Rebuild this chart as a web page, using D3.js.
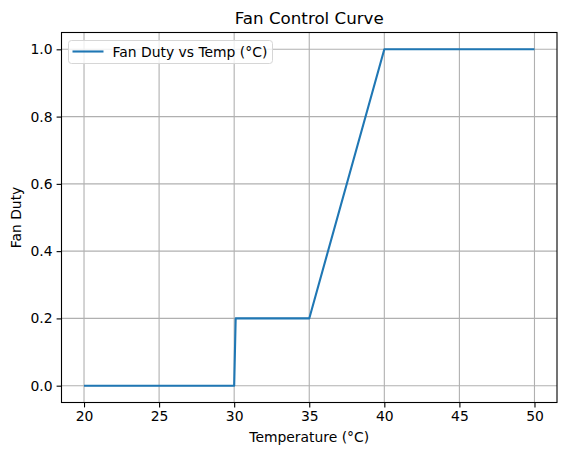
<!DOCTYPE html>
<html>
<head>
<meta charset="utf-8">
<script src="https://cdn.jsdelivr.net/npm/d3@7"></script>
<style>
  body { margin: 0; background: #fff; }
  text { font-family: "DejaVu Sans", sans-serif; fill: #000; }
</style>
</head>
<body>
<div id="chart"></div>
<script>
(function () {
    var width = 567, height = 455;

    // data
    var temps = [20, 30, 30.1, 35, 40, 50];
    var duty = [0, 0, 0.2, 0.2, 1.0, 1.0];
    var xTicks = [20, 25, 30, 35, 40, 45, 50];
    var yTicks = [0.0, 0.2, 0.4, 0.6, 0.8, 1.0];

    var margin = {left: 61.5, right: 10, top: 32.5, bottom: 52.5};

    var svg = d3.select("#chart")
        .append("svg")
        .attr("width", width)
        .attr("height", height);

    var x = d3.scaleLinear().domain([18.5, 51.5]).range([margin.left, width - margin.right]);
    var y = d3.scaleLinear().domain([-0.05, 1.05]).range([height - margin.bottom, margin.top]);

    // grid
    svg.append("g").selectAll("line.gx")
        .data(xTicks).enter().append("line")
        .attr("x1", d => x(d)).attr("x2", d => x(d))
        .attr("y1", y.range()[0]).attr("y2", y.range()[1])
        .attr("stroke", "#b0b0b0").attr("stroke-width", 1.1);
    svg.append("g").selectAll("line.gy")
        .data(yTicks).enter().append("line")
        .attr("y1", d => y(d)).attr("y2", d => y(d))
        .attr("x1", x.range()[0]).attr("x2", x.range()[1])
        .attr("stroke", "#b0b0b0").attr("stroke-width", 1.1);

    // axes
    var xAxis = d3.axisBottom(x).tickValues(xTicks).tickSize(4.9).tickPadding(4).tickFormat(d3.format("d"));
    var yAxis = d3.axisLeft(y).tickValues(yTicks).tickSize(4.9).tickPadding(4).tickFormat(d3.format(".1f"));

    var gx = svg.append("g")
        .attr("transform", "translate(0," + y.range()[0] + ")")
        .call(xAxis);
    var gy = svg.append("g")
        .attr("transform", "translate(" + x.range()[0] + ",0)")
        .call(yAxis);
    [gx, gy].forEach(function (g) {
        g.select(".domain").remove();
        g.selectAll(".tick line").attr("stroke", "#000").attr("stroke-width", 1.1);
        g.selectAll(".tick text").style("font-size", "13.9px").style("font-family", "DejaVu Sans");
    });

    // line
    var pts = temps.map(function (t, i) { return [t, duty[i]]; });
    var line = d3.line()
        .x(function (d) { return x(d[0]); })
        .y(function (d) { return y(d[1]); });
    svg.append("path")
        .attr("d", line(pts))
        .attr("fill", "none")
        .attr("stroke", "#1f77b4")
        .attr("stroke-width", 2.1)
        .attr("stroke-linejoin", "round");

    // frame
    svg.append("rect")
        .attr("x", x.range()[0]).attr("y", y.range()[1])
        .attr("width", x.range()[1] - x.range()[0])
        .attr("height", y.range()[0] - y.range()[1])
        .attr("fill", "none").attr("stroke", "#000").attr("stroke-width", 1.1);

    // title and labels
    svg.append("text")
        .attr("x", (x.range()[0] + x.range()[1]) / 2).attr("y", 24)
        .attr("text-anchor", "middle")
        .style("font-size", "16.7px")
        .text("Fan Control Curve");
    svg.append("text")
        .attr("x", (x.range()[0] + x.range()[1]) / 2).attr("y", 442)
        .attr("text-anchor", "middle")
        .style("font-size", "13.9px")
        .text("Temperature (°C)");
    svg.append("text")
        .attr("transform", "translate(21," + ((y.range()[0] + y.range()[1]) / 2) + ") rotate(-90)")
        .attr("text-anchor", "middle")
        .style("font-size", "13.9px")
        .text("Fan Duty");

    // legend
    var lg = svg.append("g");
    lg.append("rect")
        .attr("x", 68.5).attr("y", 40.5).attr("width", 204).attr("height", 23)
        .attr("rx", 3)
        .attr("fill", "#fff").attr("fill-opacity", 0.8)
        .attr("stroke", "#d6d6d6").attr("stroke-width", 1);
    lg.append("line")
        .attr("x1", 72.5).attr("x2", 103.5).attr("y1", 51.5).attr("y2", 51.5)
        .attr("stroke", "#1f77b4").attr("stroke-width", 2.1);
    lg.append("text")
        .attr("x", 112.5).attr("y", 56.5)
        .style("font-size", "13.9px")
        .text("Fan Duty vs Temp (°C)");
})();
</script>
</body>
</html>
